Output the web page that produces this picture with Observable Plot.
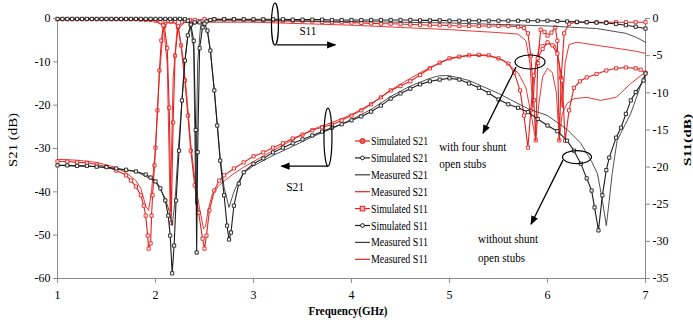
<!DOCTYPE html>
<html><head><meta charset="utf-8">
<script src="https://cdn.jsdelivr.net/npm/d3@7"></script>
<script src="https://cdn.jsdelivr.net/npm/@observablehq/plot@0.6"></script>
<style>
body{margin:0;background:#fff;}
#chart svg{display:block;}
</style></head><body><div id="chart"></div>
<script>
// ---------- data (frequency GHz, dB) ----------
const xTicks = [1, 2, 3, 4, 5, 6, 7];
const s21Ticks = [0, -10, -20, -30, -40, -50, -60];
const s11Ticks = [0, -5, -10, -15, -20, -25, -30, -35];
const legendNames = ["Simulated S21","Simulated S21","Measured S21","Measured S21","Simulated S11","Simulated S11","Measured S11","Measured S11"];

// S21 series (left axis)
const simS21Red = [[1.0,-33.0],[1.1,-33.0],[1.2,-33.2],[1.3,-33.3],[1.4,-33.7],[1.5,-34.2],[1.6,-35.1],[1.7,-36.2],[1.75,-37.4],[1.8,-38.8],[1.85,-40.8],[1.88,-43.2],[1.9,-45.5],[1.92,-50.1],[1.93,-53.1],[1.95,-51.9],[1.96,-45.5],[1.97,-40.8],[1.99,-33.9],[2.0,-29.8],[2.02,-21.2],[2.04,-12.0],[2.06,-5.1],[2.08,-1.6],[2.1,-0.6],[2.13,-0.5],[2.16,-0.7],[2.2,-0.7],[2.23,-1.8],[2.26,-6.2],[2.3,-14.3],[2.33,-22.4],[2.36,-30.5],[2.4,-38.5],[2.44,-44.8],[2.48,-50.8],[2.5,-53.1],[2.52,-50.1],[2.55,-44.3],[2.6,-39.7],[2.65,-37.4],[2.7,-36.2],[2.8,-34.6],[2.9,-33.2],[3.0,-31.8],[3.1,-30.9],[3.2,-29.8],[3.3,-28.8],[3.4,-27.7],[3.5,-26.8],[3.6,-25.8],[3.7,-25.1],[3.8,-24.5],[3.9,-23.5],[4.0,-22.4],[4.1,-21.2],[4.2,-19.8],[4.3,-18.2],[4.4,-16.6],[4.5,-15.6],[4.6,-14.5],[4.7,-13.0],[4.8,-11.5],[4.9,-10.2],[5.0,-9.2],[5.1,-8.8],[5.2,-8.5],[5.3,-8.4],[5.4,-8.5],[5.5,-9.2],[5.6,-10.4],[5.66,-12.5],[5.72,-16.6],[5.76,-22.4],[5.8,-29.8],[5.83,-21.2],[5.86,-13.2],[5.9,-9.2],[5.95,-7.0],[6.0,-5.5],[6.05,-6.2],[6.1,-8.1],[6.15,-14.3],[6.18,-28.2],[6.22,-21.2],[6.27,-16.0],[6.33,-14.5],[6.4,-13.6],[6.5,-12.8],[6.6,-12.0],[6.7,-11.5],[6.8,-11.3],[6.9,-11.5],[6.95,-11.8],[7.0,-12.5]];
const simS21Black = [[1.0,-33.9],[1.1,-33.9],[1.2,-34.0],[1.3,-34.0],[1.4,-34.2],[1.5,-34.3],[1.6,-34.6],[1.7,-34.9],[1.8,-35.3],[1.9,-36.0],[1.95,-36.7],[2.0,-37.6],[2.05,-39.2],[2.1,-42.0],[2.13,-45.5],[2.15,-50.1],[2.17,-58.8],[2.19,-52.4],[2.21,-42.0],[2.24,-30.5],[2.27,-18.9],[2.3,-9.7],[2.33,-3.9],[2.36,-1.4],[2.4,-0.9],[2.45,-0.9],[2.5,-1.2],[2.53,-2.8],[2.56,-7.4],[2.6,-16.6],[2.63,-24.7],[2.66,-32.8],[2.7,-40.8],[2.73,-47.8],[2.75,-51.0],[2.77,-49.4],[2.8,-43.2],[2.85,-38.1],[2.9,-35.5],[3.0,-33.5],[3.1,-32.3],[3.2,-30.9],[3.3,-29.8],[3.4,-28.8],[3.5,-27.9],[3.6,-27.0],[3.7,-26.1],[3.8,-25.2],[3.9,-24.4],[4.0,-23.5],[4.1,-22.6],[4.2,-21.5],[4.3,-20.1],[4.4,-18.5],[4.5,-17.3],[4.6,-16.2],[4.7,-15.2],[4.8,-14.5],[4.9,-14.1],[5.0,-13.8],[5.1,-14.1],[5.2,-15.0],[5.3,-16.0],[5.4,-17.2],[5.5,-18.7],[5.6,-19.8],[5.7,-20.6],[5.8,-21.6],[5.9,-23.2],[6.0,-24.7],[6.1,-26.0],[6.2,-28.2],[6.27,-30.5],[6.34,-33.5],[6.4,-36.9],[6.45,-39.7],[6.48,-43.6],[6.52,-48.9],[6.56,-40.8],[6.6,-35.0],[6.63,-32.1],[6.7,-27.5],[6.75,-25.2],[6.8,-22.0],[6.85,-18.9],[6.9,-17.0],[6.98,-14.3],[7.0,-12.7]];
const measS21Black = [[1.0,-33.9],[1.4,-34.2],[1.8,-35.3],[2.0,-37.6],[2.1,-41.5],[2.14,-44.5],[2.17,-47.8],[2.2,-42.0],[2.23,-31.0],[2.27,-19.0],[2.3,-10.0],[2.33,-4.0],[2.36,-1.5],[2.45,-1.0],[2.53,-3.0],[2.56,-7.5],[2.6,-16.5],[2.66,-32.0],[2.7,-39.0],[2.75,-43.6],[2.8,-40.0],[2.85,-37.5],[2.9,-35.6],[3.0,-34.0],[3.2,-31.6],[3.4,-29.5],[3.6,-27.3],[3.8,-25.4],[4.0,-23.3],[4.2,-21.0],[4.4,-18.0],[4.6,-15.6],[4.8,-13.8],[4.9,-13.2],[5.0,-13.2],[5.2,-14.3],[5.5,-17.3],[5.8,-20.8],[6.0,-22.4],[6.2,-25.6],[6.34,-28.8],[6.45,-33.0],[6.51,-35.8],[6.56,-42.0],[6.6,-47.8],[6.63,-42.0],[6.66,-35.8],[6.71,-28.2],[6.85,-21.9],[6.98,-13.6],[7.0,-12.7]];
const measS21Red = [[1.0,-32.5],[1.2,-32.7],[1.4,-33.2],[1.6,-34.4],[1.7,-35.6],[1.8,-37.4],[1.85,-39.2],[1.9,-43.2],[1.93,-44.3],[1.96,-39.7],[2.0,-30.0],[2.04,-13.0],[2.08,-2.5],[2.12,-1.0],[2.2,-1.0],[2.24,-3.0],[2.28,-9.0],[2.32,-18.0],[2.36,-29.0],[2.4,-37.0],[2.45,-44.0],[2.49,-48.5],[2.51,-48.0],[2.54,-44.0],[2.58,-40.5],[2.65,-38.5],[2.7,-37.5],[2.8,-35.8],[2.9,-34.3],[3.0,-33.0],[3.2,-30.5],[3.4,-28.0],[3.6,-25.6],[3.8,-24.0],[4.0,-22.2],[4.2,-19.7],[4.4,-16.5],[4.6,-13.8],[4.8,-11.3],[5.0,-9.3],[5.2,-8.5],[5.4,-8.6],[5.55,-9.6],[5.7,-12.5],[5.78,-16.0],[5.84,-23.0],[5.88,-28.2],[5.91,-20.0],[5.95,-13.5],[6.0,-11.5],[6.05,-12.5],[6.09,-17.0],[6.12,-28.2],[6.15,-22.0],[6.2,-19.6],[6.27,-18.5],[6.4,-18.2],[6.54,-18.9],[6.7,-18.2],[6.85,-15.0],[6.98,-12.7],[7.0,-12.2]];

// S11 series (right axis)
const simS11Red = [[1.0,-0.1],[1.05,-0.1],[1.1,-0.1],[1.15,-0.1],[1.2,-0.1],[1.25,-0.1],[1.3,-0.1],[1.35,-0.1],[1.4,-0.1],[1.45,-0.1],[1.5,-0.1],[1.55,-0.1],[1.6,-0.1],[1.65,-0.1],[1.7,-0.1],[1.75,-0.1],[1.8,-0.1],[1.85,-0.15],[1.9,-0.2],[1.95,-0.2],[2.0,-0.3],[2.05,-0.5],[2.09,-1.0],[2.12,-4.0],[2.14,-12.0],[2.16,-27.5],[2.18,-14.0],[2.2,-5.0],[2.23,-1.2],[2.27,-0.5],[2.3,-0.3],[2.35,-0.2],[2.4,-0.2],[2.5,-0.1],[2.6,-0.1],[2.7,-0.1],[2.8,-0.1],[2.9,-0.15],[3.0,-0.2],[3.1,-0.2],[3.2,-0.25],[3.3,-0.3],[3.4,-0.3],[3.5,-0.35],[3.6,-0.4],[3.7,-0.45],[3.8,-0.5],[3.9,-0.5],[4.0,-0.55],[4.1,-0.6],[4.2,-0.65],[4.3,-0.7],[4.4,-0.7],[4.5,-0.75],[4.6,-0.8],[4.7,-0.85],[4.8,-0.9],[4.9,-0.9],[5.0,-0.95],[5.1,-1.0],[5.2,-1.0],[5.3,-1.0],[5.4,-1.0],[5.5,-1.0],[5.6,-1.0],[5.7,-1.1],[5.76,-1.3],[5.8,-2.0],[5.83,-5.0],[5.86,-11.0],[5.88,-16.4],[5.9,-6.0],[5.93,-1.5],[5.97,-1.8],[6.0,-2.3],[6.04,-1.9],[6.08,-1.2],[6.1,-3.0],[6.12,-16.4],[6.14,-8.0],[6.17,-2.0],[6.22,-0.7],[6.3,-0.5],[6.4,-0.5],[6.5,-0.5],[6.6,-0.5],[6.7,-0.5],[6.8,-0.5],[6.9,-0.5],[7.0,-0.5]];
const simS11Black = [[1.0,-0.05],[1.05,-0.05],[1.1,-0.05],[1.15,-0.05],[1.2,-0.05],[1.25,-0.05],[1.3,-0.05],[1.35,-0.05],[1.4,-0.05],[1.45,-0.05],[1.5,-0.05],[1.55,-0.05],[1.6,-0.05],[1.65,-0.05],[1.7,-0.05],[1.75,-0.05],[1.8,-0.05],[1.85,-0.05],[1.9,-0.05],[1.95,-0.05],[2.0,-0.05],[2.05,-0.05],[2.1,-0.05],[2.15,-0.05],[2.2,-0.05],[2.25,-0.05],[2.3,-0.1],[2.33,-0.3],[2.36,-0.8],[2.39,-3.0],[2.41,-15.0],[2.42,-31.5],[2.43,-18.0],[2.45,-4.0],[2.48,-1.2],[2.52,-0.4],[2.56,-0.2],[2.6,-0.1],[2.7,-0.1],[2.8,-0.1],[2.9,-0.1],[3.0,-0.1],[3.1,-0.1],[3.2,-0.1],[3.3,-0.1],[3.4,-0.15],[3.5,-0.15],[3.6,-0.15],[3.7,-0.15],[3.8,-0.2],[3.9,-0.2],[4.0,-0.2],[4.1,-0.2],[4.2,-0.2],[4.3,-0.2],[4.4,-0.2],[4.5,-0.2],[4.6,-0.2],[4.7,-0.25],[4.8,-0.25],[4.9,-0.25],[5.0,-0.3],[5.1,-0.3],[5.2,-0.3],[5.3,-0.3],[5.4,-0.3],[5.5,-0.3],[5.6,-0.3],[5.7,-0.3],[5.8,-0.3],[5.9,-0.3],[6.0,-0.3],[6.1,-0.35],[6.2,-0.4],[6.3,-0.45],[6.4,-0.5],[6.5,-0.55],[6.6,-0.6],[6.7,-0.75],[6.8,-0.9],[6.9,-1.1],[7.0,-1.35]];
const measS11Black = [[1.0,-0.1],[1.5,-0.1],[2.0,-0.1],[2.3,-0.2],[2.35,-0.6],[2.39,-4.0],[2.41,-25.0],[2.43,-6.0],[2.46,-1.0],[2.55,-0.3],[3.0,-0.3],[3.5,-0.35],[4.0,-0.4],[4.5,-0.5],[5.0,-0.6],[5.5,-0.8],[6.0,-1.0],[6.5,-1.35],[6.8,-2.0],[6.9,-2.5],[7.0,-3.2]];
const measS11Red = [[1.0,-0.1],[1.5,-0.15],[2.0,-0.3],[2.08,-1.0],[2.12,-6.0],[2.15,-26.0],[2.18,-8.0],[2.22,-1.5],[2.3,-0.5],[3.0,-0.5],[3.5,-0.7],[4.0,-0.9],[4.5,-1.2],[5.0,-1.5],[5.5,-1.9],[5.7,-2.1],[5.78,-3.0],[5.82,-6.0],[5.85,-12.0],[5.88,-6.0],[5.92,-3.6],[6.0,-3.4],[6.08,-3.6],[6.12,-6.0],[6.15,-12.0],[6.18,-6.0],[6.22,-3.5],[6.3,-3.2],[6.5,-3.6],[6.7,-4.0],[6.9,-4.4],[7.0,-4.7]];

// ---------- styling / table ----------
const RED = "#e3221f", BLACK = "#1c1c1c", DARK = "#3b3b3b";
const s11Factor = 60 / 35; // right axis (-35..0) onto left axis (-60..0)
const seriesDefs = [
  {data: simS11Red,   axis: "S11", color: RED,   marker: true,  legend: 4, sym: "square"},
  {data: measS11Red,  axis: "S11", color: RED,   marker: false, legend: 7},
  {data: simS21Red,   axis: "S21", color: RED,   marker: true,  legend: 0, sym: "dotFilled"},
  {data: measS21Red,  axis: "S21", color: RED,   marker: false, legend: 3},
  {data: measS11Black,axis: "S11", color: DARK,  marker: false, legend: 6},
  {data: measS21Black,axis: "S21", color: DARK,  marker: false, legend: 2},
  {data: simS11Black, axis: "S11", color: BLACK, marker: true,  legend: 5, sym: "squareSmall"},
  {data: simS21Black, axis: "S21", color: BLACK, marker: true,  legend: 1, sym: "circle"}
];
const toRows = (d, i) => d.data.map(([f, v]) => ({f, y: d.axis === "S11" ? v * s11Factor : v, k: i}));

const marks = [];
seriesDefs.forEach((d, i) => {
  const rows = toRows(d, i);
  marks.push(Plot.line(rows, {x: "f", y: "y", stroke: d.color, strokeWidth: d.marker ? 1.1 : 0.9}));
  if (d.marker) marks.push(Plot.dot(rows, {x: "f", y: "y", symbol: "square", r: 1.8, stroke: d.color, fill: "white", strokeWidth: 0.9}));
});

const FONT = "'Liberation Serif','Times New Roman',serif";
const chart = Plot.plot({
  width: 693, height: 325,
  marginLeft: 57, marginRight: 48, marginTop: 18, marginBottom: 47,
  style: {fontFamily: FONT, fontSize: "12px", color: "#000", background: "#fff"},
  x: {domain: [1, 7]},
  y: {domain: [-60, 0]},
  marks: [
    Plot.ruleX([1, 7], {stroke: "#8a8a8a"}),
    Plot.ruleY([-60], {stroke: "#8a8a8a"}),
    ...marks,
    Plot.axisX({ticks: xTicks, tickFormat: d => String(d), tickSize: 5, tickPadding: 7, label: null, stroke: "#8a8a8a"}),
    Plot.axisY({anchor: "left", ticks: s21Ticks, tickFormat: d => String(d), tickSize: 4, tickPadding: 3, label: null, stroke: "#8a8a8a"}),
    Plot.axisY({anchor: "right", ticks: s11Ticks.map(t => t * s11Factor), tickFormat: d => String(Math.round(d / s11Factor)), tickSize: 4, tickPadding: 3, label: null, stroke: "#8a8a8a"})
  ]
});
document.getElementById("chart").appendChild(chart);

// ---------- annotations & legend ----------
const sx = chart.scale("x"), sy = chart.scale("y");
const X = f => sx.apply(f), Y = v => sy.apply(v);
const svg = d3.select(chart);
const g = svg.append("g").attr("font-family", FONT).attr("font-size", 12).attr("fill", "#000").attr("text-anchor", "start");

function txt(x, y, s, opts = {}) {
  const t = g.append("text").attr("x", x).attr("y", y).text(s)
    .attr("text-anchor", opts.anchor || "start");
  if (opts.len) t.attr("textLength", opts.len).attr("lengthAdjust", "spacingAndGlyphs");
  if (opts.bold) t.attr("font-weight", "bold");
  if (opts.size) t.attr("font-size", opts.size);
  if (opts.rot) t.attr("transform", `rotate(${opts.rot},${x},${y})`);
  return t;
}
svg.append("defs").html('<marker id="ah" viewBox="0 0 10 10" refX="9" refY="5" markerWidth="7" markerHeight="7" orient="auto-start-reverse"><path d="M0,1 L10,5 L0,9 z" fill="#000"/></marker>');
function arrow(x1, y1, x2, y2) {
  g.append("line").attr("x1", x1).attr("y1", y1).attr("x2", x2).attr("y2", y2)
    .attr("stroke", "#000").attr("stroke-width", 1.3).attr("marker-end", "url(#ah)");
}
function ell(cx, cy, rx, ry) {
  g.append("ellipse").attr("cx", cx).attr("cy", cy).attr("rx", rx).attr("ry", ry)
    .attr("fill", "none").attr("stroke", "#000").attr("stroke-width", 1.2);
}
// S11 marker
ell(X(3.224), Y(-1.4), 3.5, 21);
arrow(X(3.24), Y(-6.2), X(3.84), Y(-6.2));
txt(X(3.56), Y(-3.9), "S11", {anchor: "middle", len: 17});
// S21 marker
ell(X(3.765), Y(-27.5), 4, 29);
arrow(X(3.765), Y(-34.2), X(3.29), Y(-34.2));
txt(X(3.43), Y(-40.0), "S21", {anchor: "middle", len: 18});
// with stubs
ell(X(5.827), Y(-10.15), 15, 7);
arrow(X(5.684), Y(-11.3), X(5.347), Y(-26.6));
txt(X(4.9), Y(-30.6), "with four shunt", {len: 67});
txt(X(4.9), Y(-34.5), "open stubs", {len: 47});
// without stubs
ell(X(6.306), Y(-32.1), 14.5, 6.5);
arrow(X(6.163), Y(-32.8), X(5.837), Y(-47.6));
txt(X(5.296), Y(-52.0), "without shunt", {len: 60});
txt(X(5.296), Y(-56.2), "open stubs", {len: 47});

// axis titles
txt(17, 140, "S21 (dB)", {anchor: "middle", rot: -90, len: 54});
txt(691, 140, "S11(dB)", {anchor: "middle", rot: -90, bold: true, len: 52, size: 11});
txt(348, 315, "Frequency(GHz)", {anchor: "middle", bold: true, len: 79});

// legend
const legY0 = 141, legDY = 16.9, lx0 = 355, lx1 = 370;
const bySlot = [];
seriesDefs.forEach(d => bySlot[d.legend] = d);
legendNames.forEach((name, i) => {
  const d = bySlot[i];
  const yy = legY0 + i * legDY;
  g.append("line").attr("x1", lx0).attr("x2", lx1).attr("y1", yy).attr("y2", yy)
    .attr("stroke", d.color).attr("stroke-width", 1.2);
  const cx = (lx0 + lx1) / 2;
  if (d.sym === "dotFilled") g.append("circle").attr("cx", cx).attr("cy", yy).attr("r", 2.6).attr("fill", "#ef5a5a").attr("stroke", d.color);
  if (d.sym === "circle") g.append("circle").attr("cx", cx).attr("cy", yy).attr("r", 1.9).attr("fill", "#fff").attr("stroke", d.color);
  if (d.sym === "square") g.append("rect").attr("x", cx - 2.3).attr("y", yy - 2.3).attr("width", 4.6).attr("height", 4.6).attr("fill", "#f4b0b0").attr("stroke", d.color);
  if (d.sym === "squareSmall") g.append("circle").attr("cx", cx).attr("cy", yy).attr("r", 1.9).attr("fill", "#fff").attr("stroke", d.color);
  txt(lx1 + 1, yy + 4, name, {len: 57});
});
</script></body></html>
